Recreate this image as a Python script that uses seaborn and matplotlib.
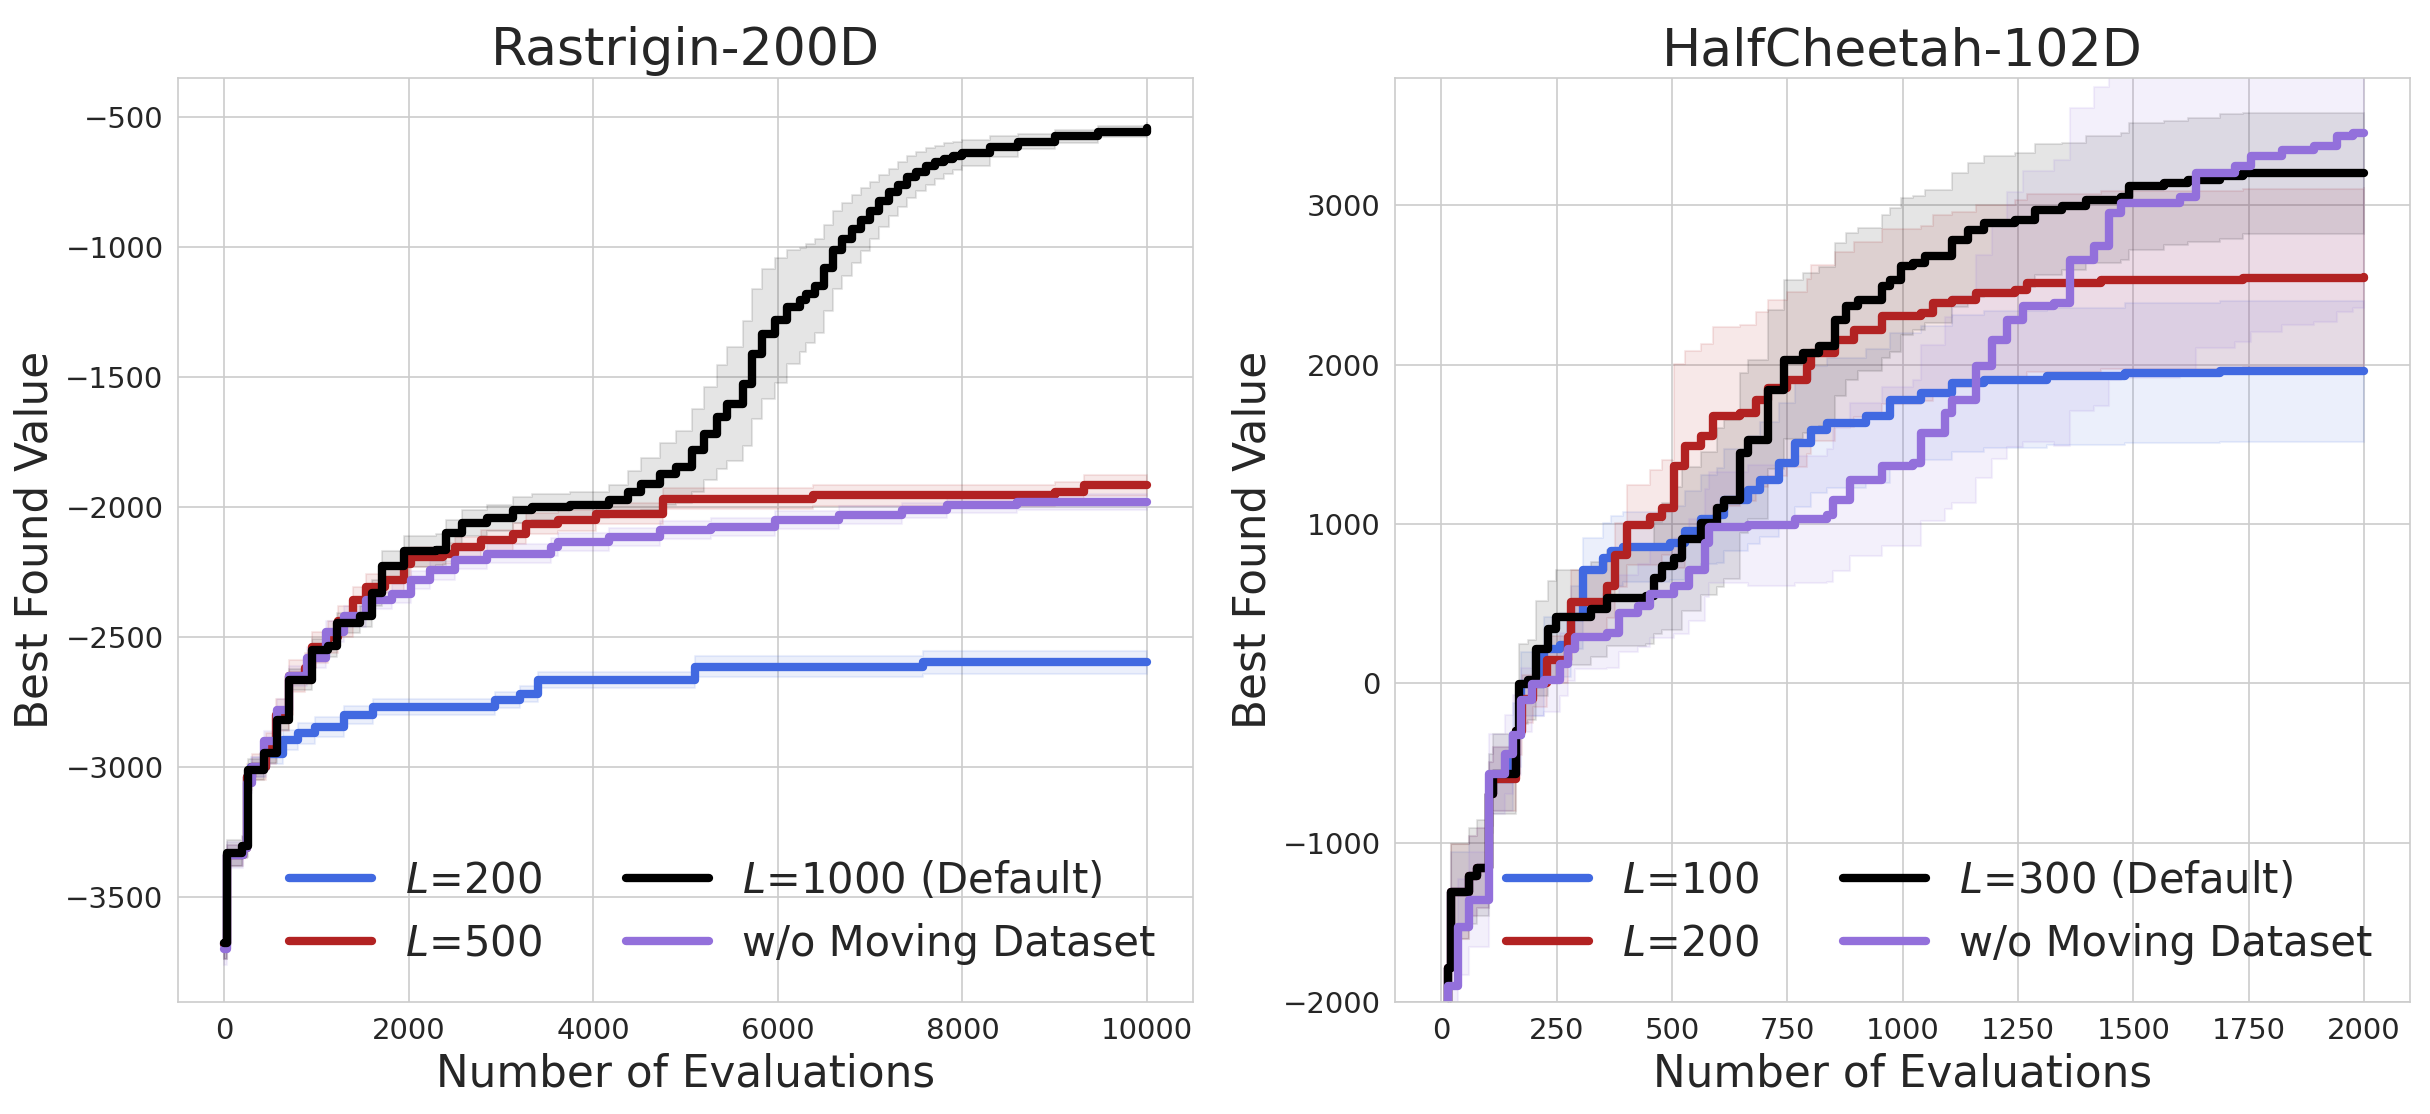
import matplotlib
matplotlib.use("Agg")
import matplotlib.pyplot as plt
import seaborn as sns

# colours for the four settings
c_blue = "royalblue"
c_red = "firebrick"
c_black = "black"
c_purple = "mediumpurple"

# ---------------- Rastrigin-200D ----------------
r_blue_x = [0, 30, 200, 250, 290, 450, 640, 800, 985, 1300, 1610, 2930, 3200, 3400, 5100, 7570, 10000]
r_blue_y = [-3680, -3340, -3310, -3040, -3000, -2950, -2896, -2870, -2846, -2800, -2769, -2742, -2720, -2665, -2615, -2597, -2597]
r_blue_s = [60, 40, 40, 40, 40, 40, 40, 40, 40, 35, 30, 30, 30, 30, 40, 45, 45]

r_red_x = [0, 30, 200, 250, 300, 450, 560, 700, 880, 950, 1120, 1230, 1400, 1536, 1744, 1952, 2021, 2367, 2505,
           2782, 3128, 3266, 3612, 4028, 4755, 6381, 9000, 9322, 10000]
r_red_y = [-3680, -3340, -3310, -3040, -3000, -2930, -2800, -2650, -2620, -2540, -2500, -2440, -2359, -2308, -2282,
           -2218, -2192, -2179, -2154, -2128, -2103, -2064, -2051, -2026, -1968, -1955, -1942, -1917, -1917]
r_red_s = [60, 40, 40, 50, 50, 60, 60, 60, 60, 60, 60, 60, 50, 50, 50, 50, 40, 40, 40, 40, 40, 40, 40, 40, 40, 40,
           40, 40, 40]

r_purple_x = [0, 30, 200, 250, 300, 430, 570, 700, 900, 1100, 1300, 1536, 1813, 2021, 2228, 2505, 2851, 3543, 3612,
              4166, 4720, 5273, 5965, 6657, 7349, 7834, 8595, 10000]
r_purple_y = [-3700, -3340, -3310, -3060, -3000, -2900, -2780, -2650, -2580, -2480, -2420, -2359, -2333, -2282,
              -2244, -2205, -2179, -2154, -2135, -2115, -2090, -2077, -2051, -2032, -2013, -1994, -1981, -1981]
r_purple_s = [60, 50, 40, 40, 40, 40, 40, 40, 40, 40, 40, 35, 35, 35, 35, 35, 35, 35, 35, 35, 35, 35, 35, 35, 30,
              30, 30, 30]

r_black_x = [0, 30, 187, 256, 429, 567, 706, 879, 948, 1121, 1225, 1467, 1606, 1709, 1952, 2298, 2401, 2574, 2851,
             3128, 3336, 3751, 4166, 4374, 4512, 4720, 4893, 5066, 5204, 5343, 5446, 5619, 5723, 5827, 5965, 6104,
             6242, 6300, 6400, 6500, 6600, 6700, 6800, 6900, 7000, 7100, 7200, 7300, 7400, 7500, 7600, 7700, 7800,
             7900, 8000, 8300, 8600, 9000, 9470, 10000]
r_black_y = [-3677, -3331, -3305, -3010, -2946, -2818, -2664, -2664, -2549, -2536, -2446, -2421, -2331, -2228, -2171,
             -2164, -2100, -2062, -2042, -2013, -2000, -1994, -1974, -1942, -1910, -1872, -1846, -1782, -1718, -1654,
             -1603, -1526, -1410, -1333, -1282, -1231, -1205, -1180, -1150, -1080, -1010, -970, -930, -895, -860,
             -825, -790, -760, -730, -710, -690, -675, -660, -650, -640, -615, -595, -575, -556, -542]
r_black_s = [60, 50, 40, 40, 40, 40, 40, 40, 40, 40, 40, 40, 50, 60, 60, 60, 50, 50, 50, 50, 50, 50, 60, 80, 100,
             120, 140, 160, 180, 200, 220, 240, 250, 250, 240, 220, 200, 190, 180, 165, 150, 140, 130, 120, 110,
             100, 90, 85, 80, 75, 70, 65, 60, 55, 50, 40, 30, 25, 20, 20]

# ---------------- HalfCheetah-102D ----------------
h_blue_x = [0, 15, 22, 61, 78, 104, 112, 155, 172, 223, 257, 282, 308, 351, 368, 393, 495, 529, 563, 597, 614, 665,
            690, 733, 767, 801, 836, 921, 972, 1040, 1108, 1176, 1312, 1482, 1687, 2000]
h_blue_y = [-2600, -1787, -1307, -1209, -1160, -692, -600, -323, -4, 218, 242, 414, 710, 784, 833, 857, 882, 956,
            1029, 1054, 1153, 1215, 1278, 1383, 1508, 1592, 1634, 1676, 1780, 1822, 1885, 1906, 1927, 1948, 1958, 1962]
h_blue_s = [300, 300, 250, 250, 250, 200, 200, 200, 200, 200, 200, 200, 200, 220, 220, 220, 230, 250, 280, 300, 320,
            340, 360, 380, 400, 400, 410, 420, 420, 420, 430, 430, 430, 440, 440, 440]

h_red_x = [0, 15, 22, 61, 78, 104, 112, 163, 175, 200, 230, 274, 282, 359, 376, 402, 453, 478, 504, 529, 563, 589,
           648, 682, 708, 750, 793, 802, 853, 895, 955, 1040, 1065, 1108, 1159, 1244, 1270, 1431, 1738, 2000]
h_red_y = [-2600, -1787, -1307, -1209, -1160, -692, -600, -300, -100, 0, 150, 291, 513, 611, 808, 993, 1042, 1103,
           1362, 1487, 1550, 1676, 1697, 1780, 1854, 1906, 1990, 2073, 2157, 2220, 2303, 2324, 2387, 2408, 2450, 2471,
           2513, 2533, 2544, 2548]
h_red_s = [300, 300, 300, 250, 250, 200, 200, 150, 150, 150, 150, 150, 200, 200, 200, 250, 300, 300, 640, 600, 580,
           560, 550, 550, 550, 550, 550, 550, 550, 550, 550, 550, 550, 550, 550, 560, 560, 560, 560, 560]

h_black_x = [0, 15, 22, 61, 78, 104, 112, 163, 168, 189, 206, 231, 248, 325, 359, 444, 461, 478, 504, 521, 563, 597,
             614, 648, 665, 708, 742, 785, 819, 853, 878, 904, 955, 972, 997, 1023, 1048, 1108, 1142, 1176, 1244, 1287,
             1346, 1397, 1474, 1491, 1567, 1618, 1687, 1738, 2000]
h_black_y = [-2600, -1787, -1307, -1209, -1160, -692, -569, -298, -4, 21, 218, 341, 414, 464, 537, 550, 660, 734, 784,
             907, 1005, 1103, 1153, 1446, 1529, 1843, 2031, 2073, 2115, 2282, 2366, 2408, 2492, 2533, 2617, 2638, 2680,
             2785, 2847, 2889, 2910, 2973, 2994, 3036, 3056, 3119, 3140, 3161, 3182, 3203, 3203]
h_black_s = [300, 300, 300, 300, 300, 250, 250, 250, 250, 250, 300, 300, 300, 300, 300, 300, 350, 400, 450, 450, 450,
             500, 500, 500, 500, 500, 500, 500, 500, 480, 460, 450, 450, 450, 430, 420, 420, 420, 420, 420, 420, 410,
             400, 400, 400, 400, 390, 390, 390, 380, 380]

h_purple_x = [0, 15, 36, 61, 104, 138, 155, 172, 197, 223, 257, 274, 291, 359, 385, 427, 453, 504, 538, 572, 580, 665,
              767, 836, 849, 887, 955, 1023, 1040, 1091, 1108, 1159, 1193, 1227, 1261, 1329, 1363, 1414, 1448, 1474,
              1601, 1635, 1720, 1755, 1823, 1891, 1942, 1976, 2000]
h_purple_y = [-2600, -1900, -1529, -1357, -569, -446, -323, -102, -4, 21, 119, 218, 291, 316, 439, 488, 562, 611, 710,
              882, 980, 993, 1029, 1054, 1153, 1278, 1362, 1383, 1571, 1697, 1780, 1990, 2157, 2282, 2366, 2387, 2659,
              2743, 2952, 3015, 3056, 3203, 3245, 3308, 3349, 3370, 3433, 3454, 3454]
h_purple_s = [300, 300, 300, 300, 250, 250, 250, 200, 200, 200, 200, 200, 200, 220, 240, 260, 280, 300, 320, 340, 350,
              380, 400, 420, 450, 480, 500, 520, 550, 600, 650, 700, 750, 800, 850, 900, 950, 1000, 1050, 1100, 1100,
              1100, 1100, 1100, 1100, 1100, 1100, 1100, 1100]

sns.set_style("whitegrid")
plt.rcParams["font.family"] = ["DejaVu Sans"]

fig, axes = plt.subplots(1, 2, figsize=(16.2, 7.4267), dpi=150)
fig.subplots_adjust(left=0.0733, right=0.9918, bottom=0.1005, top=0.930, wspace=0.199)


def draw(ax, x, y, s, color, label):
    lo = [a - b for a, b in zip(y, s)]
    hi = [a + b for a, b in zip(y, s)]
    ax.fill_between(x, lo, hi, step="post", color=color, alpha=0.1)
    sns.lineplot(x=x, y=y, ax=ax, color=color, lw=4, drawstyle="steps-post", label=label, legend=False)
    return ax.lines[-1]


# left panel
ax = axes[0]
hb = draw(ax, r_blue_x, r_blue_y, r_blue_s, c_blue, "$L$=200")
hr = draw(ax, r_red_x, r_red_y, r_red_s, c_red, "$L$=500")
hp = draw(ax, r_purple_x, r_purple_y, r_purple_s, c_purple, "w/o Moving Dataset")
hk = draw(ax, r_black_x, r_black_y, r_black_s, c_black, "$L$=1000 (Default)")
ax.set_xlim(-500, 10500)
ax.set_ylim(-3904, -350)
ax.set_xticks([0, 2000, 4000, 6000, 8000, 10000])
ax.set_yticks([-3500, -3000, -2500, -2000, -1500, -1000, -500])
ax.set_title("Rastrigin-200D", fontsize=25)
ax.set_xlabel("Number of Evaluations", fontsize=21)
ax.set_ylabel("Best Found Value", fontsize=21)
ax.tick_params(labelsize=14)
ax.legend([hb, hr, hk, hp], [h.get_label() for h in [hb, hr, hk, hp]], ncol=2, loc="lower right",
          fontsize=20, frameon=False)

# right panel
ax = axes[1]
hb = draw(ax, h_blue_x, h_blue_y, h_blue_s, c_blue, "$L$=100")
hr = draw(ax, h_red_x, h_red_y, h_red_s, c_red, "$L$=200")
hk = draw(ax, h_black_x, h_black_y, h_black_s, c_black, "$L$=300 (Default)")
hp = draw(ax, h_purple_x, h_purple_y, h_purple_s, c_purple, "w/o Moving Dataset")
ax.set_xlim(-100, 2100)
ax.set_ylim(-2000, 3800)
ax.set_xticks([0, 250, 500, 750, 1000, 1250, 1500, 1750, 2000])
ax.set_yticks([-2000, -1000, 0, 1000, 2000, 3000])
ax.set_title("HalfCheetah-102D", fontsize=25)
ax.set_xlabel("Number of Evaluations", fontsize=21)
ax.set_ylabel("Best Found Value", fontsize=21)
ax.tick_params(labelsize=14)
ax.legend([hb, hr, hk, hp], [h.get_label() for h in [hb, hr, hk, hp]], ncol=2, loc="lower right",
          fontsize=20, frameon=False)

fig.savefig("out.png", dpi=150)
